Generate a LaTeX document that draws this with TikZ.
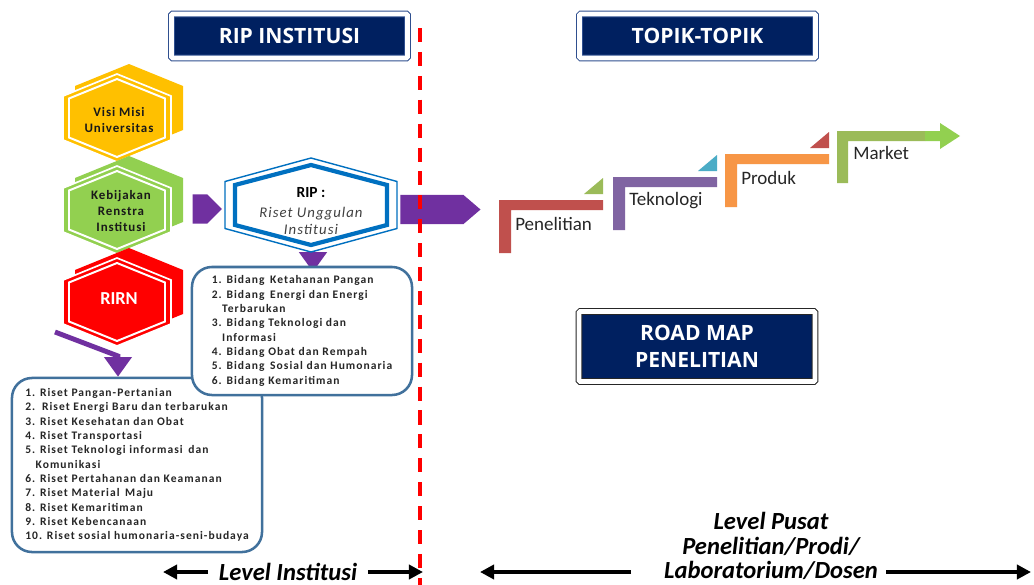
\documentclass[tikz,border=0pt]{standalone}
\usepackage{fontspec}
\setmainfont{Carlito}
\newfontfamily\hdrfont{Open Sans}
\newfontfamily\lstfont[LetterSpace=9]{Carlito}
\newfontfamily\hexfont[LetterSpace=7]{Carlito}
\usepackage{tikz}
\usetikzlibrary{arrows.meta, shapes.arrows, positioning}

\definecolor{navy}{HTML}{002060}
\definecolor{hdrline}{HTML}{2F4F8F}
\definecolor{hexYellow}{HTML}{FFC000}
\definecolor{hexGreen}{HTML}{92D050}
\definecolor{hexRed}{HTML}{FF0000}
\definecolor{ripBlue}{HTML}{0070C0}
\definecolor{boxBlue}{HTML}{41719C}
\definecolor{arrPurple}{HTML}{7030A0}
\definecolor{stRed}{HTML}{C0504D}
\definecolor{stPurple}{HTML}{8064A2}
\definecolor{stOrange}{HTML}{F79646}
\definecolor{stGreen}{HTML}{9BBB59}
\definecolor{stLime}{HTML}{92D050}
\definecolor{stCyan}{HTML}{4BACC6}

% hexagon: [options]{x}{y}{half width}{half height}
\newcommand{\hexa}[5][]{%
  \path[#1] (#2,#3-#5) -- (#2+#4,#3-#5/2) -- (#2+#4,#3+#5/2) -- (#2,#3+#5)
    -- (#2-#4,#3+#5/2) -- (#2-#4,#3-#5/2) -- cycle;}
% coloured hexagon with its offset back and white rim
\newcommand{\colhex}[3]{%
  \hexa[fill=#3]{#1+12}{#2-10}{54}{44}
  \hexa[fill=#3, draw=white, line width=1.2pt]{#1}{#2}{54}{44}
  \hexa[draw=white, line width=1.4pt]{#1}{#2}{48}{39}}

\tikzset{
  hdrbox/.style={fill=navy, draw=hdrline, double=white, double distance=3.5pt,
    line width=0.7pt, rounded corners=1pt, text=white, align=center, inner sep=0pt,
    font=\hdrfont\bfseries\fontsize{15}{19}\selectfont,
    minimum width=5.9cm, minimum height=1.1cm},
  listbox/.style={draw=boxBlue, line width=1.8pt, rounded corners=0.5cm, fill=white,
    align=left, text=black!85, font=\lstfont\bfseries\fontsize{8.2}{10.2}\selectfont},
  hexlbl/.style={align=center, text=black!90, inner sep=0pt,
    font=\hexfont\bfseries\fontsize{9.2}{11.3}\selectfont},
  blkarrow/.style={single arrow, fill=arrPurple, inner sep=0pt,
    single arrow head extend=0pt, minimum width=0.725cm},
  purline/.style={draw=arrPurple, line width=3.5pt, -{Triangle[length=14pt, width=19pt]}},
  steplbl/.style={anchor=west, inner sep=0pt, text=black!85,
    font=\fontsize{13.5}{16}\selectfont},
  lvltxt/.style={align=center, inner xsep=7.5pt,
    font=\bfseries\itshape\fontsize{17.5}{17.7}\selectfont},
  blkarr/.style={line width=2.8pt, -{Triangle[length=10pt, width=10pt]}},
  divline/.style={draw=red, line width=3.5pt, dash pattern=on 10pt off 7pt}
}

\begin{document}
\begin{tikzpicture}[x=0.025cm, y=-0.025cm]
\fill[white] (0,0) rectangle (1034,585);
\useasboundingbox (0,0) rectangle (1034,585);

% headers
\node[hdrbox] (ripinst) at (289.5,36) {RIP INSTITUSI};
\node[hdrbox] (topik) at (697.5,36) {TOPIK-TOPIK};
\node[hdrbox, draw=black!85, minimum height=1.75cm] (roadmap) at (697,346.5) {ROAD MAP\\PENELITIAN};

% hexagons on the left
\colhex{117}{118}{hexYellow}
\colhex{117}{210}{hexGreen}
\colhex{117}{302}{hexRed}
\node[hexlbl] (visi) at (119,120) {Visi Misi\\Universitas};
\node[hexlbl] (renstra) at (121,211) {Kebijakan\\Renstra\\Institusi};
\node[hexlbl, text=white, font=\bfseries\fontsize{13}{15}\selectfont] (rirn) at (119,299) {RIRN};

% RIRN list
\node[listbox, minimum width=6.25cm, minimum height=4.35cm] (riset) at (137,465) {%
1. Riset Pangan-Pertanian\\
2.\, Riset Energi Baru dan terbarukan\\
3. Riset Kesehatan dan Obat\\
4. Riset Transportasi\\
5. Riset Teknologi informasi\, dan\\
\hspace*{0.9em}Komunikasi\\
6. Riset Pertahanan dan Keamanan\\
7. Riset Material\, Maju\\
8. Riset Kemaritiman\\
9. Riset Kebencanaan\\
10. Riset sosial humonaria-seni-budaya};
\coordinate (rirnTail) at (55,332);
\coordinate (rirnBend) at (118,356);
\draw[purline] (rirnTail) -- (rirnBend) -- (rirnBend |- riset.north);

% RIP hexagon and its list
\coordinate (ripS) at (313,240);
\draw[purline] (ripS) -- ([yshift=-3.5pt]ripS |- 313,267);
\hexa[fill=white, draw=ripBlue, line width=1pt]{311}{205}{86}{47}
\hexa[draw=ripBlue, line width=3pt]{311}{205}{76}{40}
\node[font=\bfseries\fontsize{11}{13}\selectfont] (riptitle) at (311,193) {RIP :};
\node[align=center, text=black!75, font=\hexfont\itshape\fontsize{10.5}{12}\selectfont]
  (ripsub) at (311,221) {Riset Unggulan\\Institusi};
\node[listbox, minimum width=5.5cm, minimum height=3.2cm] (riplist) at (302,331) {%
1. Bidang\, Ketahanan Pangan\\
2. Bidang\, Energi dan Energi\\
\hspace*{0.9em}Terbarukan\\
3. Bidang Teknologi dan\\
\hspace*{0.9em}Informasi\\
4. Bidang Obat dan Rempah\\
5. Bidang\, Sosial dan Humonaria\\
6. Bidang Kemaritiman};

% purple block arrows
\node[blkarrow, minimum height=0.725cm] (arrA) at (200,209) {};
\node[blkarrow, minimum height=2cm, single arrow tip angle=81] (arrB) at (432,209.5) {};

% dividing line
\draw[divline] (420,28) -- (420,585);

% steps
\foreach \x/\y/\c/\t/\lbl in {499/200/stRed/stGreen/Penelitian,
    613/177/stPurple/stCyan/Teknologi, 725/154/stOrange/stRed/Produk} {
  \fill[\c] (\x,\y) -- ++(104,0) -- ++(0,10) -- ++(-92,0) -- ++(0,43) -- ++(-12,0) -- cycle;
  \fill[\t] (\x+85,\y-6) -- ++(19,0) -- ++(0,-16) -- cycle;
  \node[steplbl] (\lbl) at (\x+16,\y+24) {\lbl};
}
\fill[stGreen] (837,131) -- (925,131) -- (925,141) -- (848,141) -- (848,183) -- (837,183) -- cycle;
\fill[stLime] (925,131) -- (940,131) -- (940,123) -- (960,136) -- (940,149) -- (940,141) -- (925,141) -- cycle;
\node[steplbl] (market) at (853,153) {Market};

% levels
\node[lvltxt] (lvlinst) at (288,572) {Level Institusi};
\coordinate (instL) at (163,572);
\coordinate (instR) at (423,572);
\draw[blkarr] (lvlinst.west) -- (instL);
\draw[blkarr] (lvlinst.east) -- (instR);
\node[lvltxt] (lvlpusat) at (771,546) {Level Pusat\\Penelitian/Prodi/\\Laboratorium/Dosen};
\coordinate (pusA) at (631,572);
\coordinate (pusB) at (480,572);
\coordinate (pusC) at (886,572);
\coordinate (pusD) at (1031,572);
\draw[blkarr] (pusA) -- (pusB);
\draw[blkarr] (pusC) -- (pusD);
\end{tikzpicture}
\end{document}
